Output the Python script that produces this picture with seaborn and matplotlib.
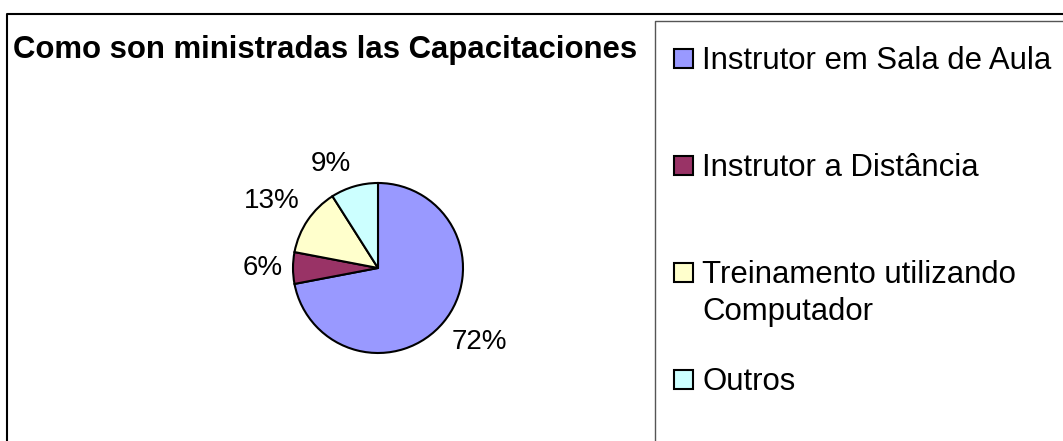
import matplotlib
matplotlib.use("Agg")
import numpy as np
import matplotlib.pyplot as plt
import seaborn as sns
from matplotlib.lines import Line2D
from matplotlib.patches import Rectangle

# ---- data ----
categories = ["Instrutor em Sala de Aula", "Instrutor a Distância",
              "Treinamento utilizando\nComputador", "Outros"]
values = [72, 6, 13, 9]
colors_hex = ["#9999FF", "#993366", "#FFFFCC", "#CCFFFF"]
title = "Como son ministradas las Capacitaciones"

sns.set_theme(style="white")
plt.rcParams['font.family'] = ['Liberation Sans', 'DejaVu Sans']
plt.rcParams['text.color'] = 'black'
palette = sns.color_palette(colors_hex)

W, H = 1063, 441
fig = plt.figure(figsize=(W / 100, H / 100), dpi=100)
fig.patch.set_facecolor('white')

# pie axes (centre ~ (378,268) px, radius ~85 px)
cx, cy, r = 378, 268, 85
half = 1.25 * r
ax = fig.add_axes([(cx - half) / W, (H - cy - half) / H, 2 * half / W, 2 * half / H])
wedges, texts, autotexts = ax.pie(
    values, colors=palette, startangle=90, counterclock=False,
    autopct='%1.0f%%', pctdistance=1.1,
    wedgeprops=dict(edgecolor='black', linewidth=1.5),
    textprops=dict(fontsize=20, color='black'))
ax.set_xlim(-1.25, 1.25)
ax.set_ylim(-1.25, 1.25)
ax.set_aspect('equal')
ax.axis('off')

# place percentage labels just outside the pie, box corner nearest the pie
for w, t in zip(wedges, autotexts):
    th = np.deg2rad((w.theta1 + w.theta2) / 2)
    c, s = np.cos(th), np.sin(th)
    d = 1.12
    t.set_position((d * c, d * s))
    t.set_ha('left' if c > 0 else 'right')
    if abs(s) < 0.3:
        t.set_va('center')
    else:
        t.set_va('bottom' if s > 0 else 'top')

# title
fig.text(13 / W, (H - 58) / H, title, fontsize=22.4, fontweight='bold',
         ha='left', va='baseline', color='black')

# legend (Excel-style: equally spaced entries, handle on first text line)
x_box, x_txt = 674, 702
top0, step = 46, 107
for i, (cat, col) in enumerate(zip(categories, palette)):
    top = top0 + i * step
    base = top + 22
    fig.add_artist(Rectangle((x_box / W, (H - base) / H), 19 / W, 19 / H,
                             transform=fig.transFigure, facecolor=col,
                             edgecolor='black', lw=1.5))
    fig.text(x_txt / W, (H - top) / H, cat, fontsize=22.4, color='black',
             ha='left', va='top', linespacing=1.3)

# outer chart frame and legend frame
fig.add_artist(Line2D([7 / W, 7 / W, 1.0], [0, (H - 14) / H, (H - 14) / H],
                      transform=fig.transFigure, color='black', lw=1.5))
fig.add_artist(Line2D([655 / W, 655 / W, 1.0], [0, (H - 21) / H, (H - 21) / H],
                      transform=fig.transFigure, color='#555555', lw=1.0))

fig.savefig("out.png", dpi=100)
